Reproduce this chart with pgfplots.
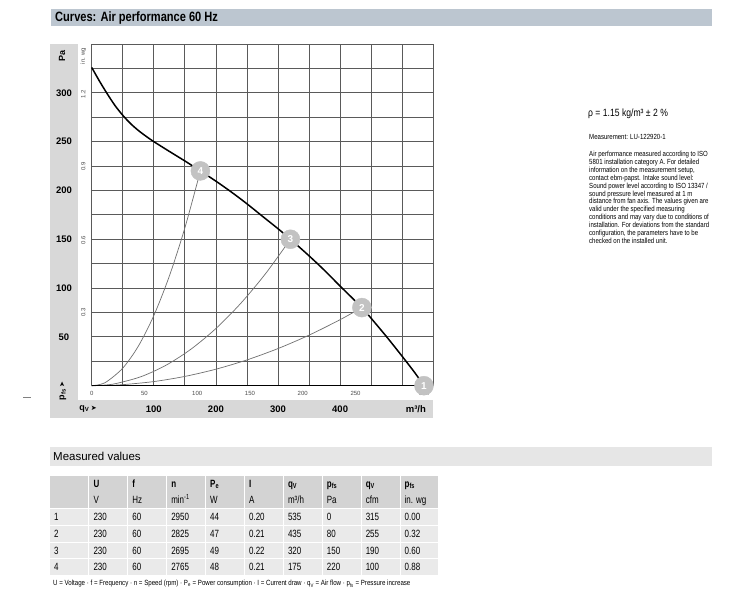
\documentclass[border=0pt]{standalone}
\usepackage{pgfplots}
\pgfplotsset{compat=1.18}
\usepackage{fontspec}
\setmainfont{Liberation Sans}
\newfontfamily\narrow[FakeStretch=0.82]{Liberation Sans}
\newfontfamily\tnarrow[FakeStretch=0.76]{Liberation Sans}
\newfontfamily\dejavu{DejaVu Sans}
\definecolor{titlebar}{HTML}{BCC6D0}
\definecolor{panel}{HTML}{D8D8D8}
\definecolor{mvbar}{HTML}{E6E6E6}
\definecolor{hdr}{HTML}{D3D3D3}
\definecolor{cellc}{HTML}{EAEAEA}
\definecolor{gridc}{HTML}{5A5A5A}
\definecolor{markc}{HTML}{C2C2C2}
\definecolor{syscol}{HTML}{707070}
\newcommand\tabrow[2]{%
  \foreach \t [count=\c from 0] in {#2}{%
    \pgfmathsetmacro{\xx}{\c==0 ? 54 : 93.3+38.9*(\c-1)}%
    \pgfmathsetmacro{\yy}{600-475.7-16.72*#1-7.95-3.6}%
    \node[anchor=base west,inner sep=0] at (\xx,\yy) {\t};
  }}
\begin{document}
\begin{tikzpicture}
\begin{scope}[x=1pt,y=1pt]
\path[fill=white,use as bounding box] (0,0) rectangle (750,600);
% title bar
\fill[titlebar] (50.7,574) rectangle (712.3,590.7);
\node[anchor=west,inner sep=0,font=\narrow\bfseries\fontsize{13.5}{15}\selectfont] at (55,582.3) {Curves: Air performance 60 Hz};
% chart panel
\fill[panel] (50,182) rectangle (433.3,556);
\fill[white] (78,199.5) rectangle (433.3,556);
\draw[gray,line width=0.8] (23,203) -- (31,203);
% right text
\node[anchor=west,inner sep=0,font=\narrow\fontsize{10.5}{12}\selectfont] at (588,486) {ρ = 1.15 kg/m³ ± 2 \%};
\node[anchor=west,inner sep=0,font=\narrow\fontsize{7.4}{7.9}\selectfont] at (589,463.3) {Measurement: LU-122920-1};
\node[anchor=north west,inner sep=0,align=left,font=\narrow\fontsize{7.4}{7.9}\selectfont] at (589,449) {Air performance measured according to ISO\\
5801 installation category A. For detailed\\
information on the measurement setup,\\
contact ebm-papst. Intake sound level:\\
Sound power level according to ISO 13347 /\\
sound pressure level measured at 1 m\\
distance from fan axis. The values given are\\
valid under the specified measuring\\
conditions and may vary due to conditions of\\
installation. For deviations from the standard\\
configuration, the parameters have to be\\
checked on the installed unit.};
% measured values
\fill[mvbar] (50,134) rectangle (712,152.7);
\node[anchor=west,inner sep=0,font=\fontsize{11.5}{13}\selectfont] at (53,143.3) {Measured values};
\foreach \r in {0,...,5}{
  \foreach \c in {0,...,9}{
    \pgfmathsetmacro{\xl}{\c==0 ? 50 : 89.3+38.9*(\c-1)}
    \pgfmathsetmacro{\xr}{\c==0 ? 88.3 : 89.3+38.9*(\c-1)+37.9}
    \pgfmathsetmacro{\yt}{600-475.7-16.72*\r}
    \pgfmathsetmacro{\yb}{\yt-15.9}
    \ifnum\r<2 \def\cc{hdr}\else\def\cc{cellc}\fi
    \fill[\cc] (\xl,\yb) rectangle (\xr,\yt);
  }
}
\begin{scope}[font=\tnarrow\fontsize{10.5}{12}\selectfont]
\tabrow{0}{{},{\bfseries U},{\bfseries f},{\bfseries n},{\bfseries P\textsubscript{e}},{\bfseries I},{\bfseries q\textsubscript{V}},{\bfseries p\textsubscript{fs}},{\bfseries q\textsubscript{V}},{\bfseries p\textsubscript{fs}}}
\tabrow{1}{{},V,Hz,{min\textsuperscript{-1}},W,A,{m³/h},Pa,cfm,{in. wg}}
\tabrow{2}{1,230,60,2950,44,0.20,535,0,315,0.00}
\tabrow{3}{2,230,60,2825,47,0.21,435,80,255,0.32}
\tabrow{4}{3,230,60,2695,49,0.22,320,150,190,0.60}
\tabrow{5}{4,230,60,2765,48,0.21,175,220,100,0.88}
\end{scope}
\node[anchor=west,inner sep=0,font=\narrow\fontsize{7.5}{8}\selectfont] at (53,16) {U = Voltage · f = Frequency · n = Speed (rpm) · P\textsubscript{e} = Power consumption · I = Current draw · q\textsubscript{V} = Air flow · p\textsubscript{fs} = Pressure increase};
\end{scope}
\begin{axis}[at={(91.7pt,214.3pt)}, anchor=south west, scale only axis,
  width=341.6pt, height=341.7pt,
  xmin=0, xmax=550, ymin=0, ymax=350,
  xtick={0,50,...,550}, ytick={0,25,...,350},
  xticklabels={}, yticklabels={}, major tick length=0pt,
  grid=major, major grid style={draw=gridc, line width=0.8pt},
  axis line style={draw=gridc, line width=0.8pt},
  clip=false]
\addplot[syscol, line width=0.7pt, smooth] coordinates {(0,0) (12.5,1.12) (25,4.49) (50,17.96) (75,40.41) (100,71.84) (125,112.24) (150,161.63) (175,220)};
\addplot[syscol, line width=0.7pt, smooth] coordinates {(0,0) (20,0.59) (40,2.34) (80,9.38) (120,21.09) (160,37.5) (200,58.59) (240,84.38) (280,114.84) (320,150)};
\addplot[syscol, line width=0.7pt, smooth] coordinates {(0,0) (25,0.26) (50,1.06) (100,4.23) (150,9.51) (200,16.91) (250,26.42) (300,38.05) (350,51.79) (400,67.64) (435,80)};
\addplot[black, line width=1.5pt, smooth] coordinates {(0,326) (12.5,312) (25,299) (37.5,287) (50,277) (62.5,268.5) (75,261.5) (87.5,255.5) (100,250) (125,240) (150,230.2) (175,220) (200,209.5) (225,198.3) (250,186.3) (275,173.5) (300,160.8) (320,150) (350,133) (375,118) (400,102) (435,80) (450,69) (475,50) (500,30) (520,13.5) (535,0)};
\draw[black, line width=1.3pt] (axis cs:0,0) -- (axis cs:550,0);
% Pa labels
\node[font=\bfseries\fontsize{9.5}{10}\selectfont] at ([xshift=-27.7pt]axis cs:0,50) {50};
\node[font=\bfseries\fontsize{9.5}{10}\selectfont] at ([xshift=-27.7pt]axis cs:0,100) {100};
\node[font=\bfseries\fontsize{9.5}{10}\selectfont] at ([xshift=-27.7pt]axis cs:0,150) {150};
\node[font=\bfseries\fontsize{9.5}{10}\selectfont] at ([xshift=-27.7pt]axis cs:0,200) {200};
\node[font=\bfseries\fontsize{9.5}{10}\selectfont] at ([xshift=-27.7pt]axis cs:0,250) {250};
\node[font=\bfseries\fontsize{9.5}{10}\selectfont] at ([xshift=-27.7pt]axis cs:0,300) {300};
\node[rotate=90,font=\bfseries\fontsize{9}{10}\selectfont] at ([xshift=-29.7pt]axis cs:0,337.7) {Pa};
% in. wg labels
\node[rotate=90,text=black!70,font=\fontsize{6}{7}\selectfont] at ([xshift=-8.4pt]axis cs:0,74.7) {0.3};
\node[rotate=90,text=black!70,font=\fontsize{6}{7}\selectfont] at ([xshift=-8.4pt]axis cs:0,149.4) {0.6};
\node[rotate=90,text=black!70,font=\fontsize{6}{7}\selectfont] at ([xshift=-8.4pt]axis cs:0,224.2) {0.9};
\node[rotate=90,text=black!70,font=\fontsize{6}{7}\selectfont] at ([xshift=-8.4pt]axis cs:0,298.9) {1.2};
\node[rotate=90,text=black!70,font=\fontsize{6}{7}\selectfont] at ([xshift=-8.4pt]axis cs:0,337.7) {in. wg};
% cfm labels
\node[text=black!70,font=\fontsize{6}{7}\selectfont] at ([yshift=-7.3pt]axis cs:0,0) {0};
\node[text=black!70,font=\fontsize{6}{7}\selectfont] at ([yshift=-7.3pt]axis cs:84.95,0) {50};
\node[text=black!70,font=\fontsize{6}{7}\selectfont] at ([yshift=-7.3pt]axis cs:169.9,0) {100};
\node[text=black!70,font=\fontsize{6}{7}\selectfont] at ([yshift=-7.3pt]axis cs:254.85,0) {150};
\node[text=black!70,font=\fontsize{6}{7}\selectfont] at ([yshift=-7.3pt]axis cs:339.8,0) {200};
\node[text=black!70,font=\fontsize{6}{7}\selectfont] at ([yshift=-7.3pt]axis cs:424.75,0) {250};
\node[text=black!70,font=\fontsize{6}{7}\selectfont] at ([yshift=-7.3pt]axis cs:535,0) {cfm};
% m3/h labels
\node[font=\bfseries\fontsize{9.5}{10}\selectfont] at ([yshift=-23.3pt]axis cs:100,0) {100};
\node[font=\bfseries\fontsize{9.5}{10}\selectfont] at ([yshift=-23.3pt]axis cs:200,0) {200};
\node[font=\bfseries\fontsize{9.5}{10}\selectfont] at ([yshift=-23.3pt]axis cs:300,0) {300};
\node[font=\bfseries\fontsize{9.5}{10}\selectfont] at ([yshift=-23.3pt]axis cs:400,0) {400};
\node[font=\bfseries\fontsize{9.5}{10}\selectfont] at ([yshift=-23.3pt]axis cs:522,0) {m³/h};
\node[font=\bfseries\fontsize{9}{10}\selectfont] at ([xshift=-3.7pt,yshift=-23.3pt]axis cs:0,0) {q\textsubscript{V}\,{\dejavu\fontsize{7}{7}\selectfont ➤}};
\node[rotate=90,font=\bfseries\fontsize{9}{10}\selectfont] at ([xshift=-28.7pt,yshift=-5.3pt]axis cs:0,0) {p\textsubscript{fs}\,{\dejavu\fontsize{7}{7}\selectfont ➤}};
% operating points
\addplot[only marks, mark=*, mark size=9.5pt, mark options={fill=markc, draw=markc},
  point meta=explicit symbolic, nodes near coords,
  nodes near coords style={anchor=center, text=white, font=\bfseries\fontsize{10}{10}\selectfont}]
  coordinates {(535,0) [1] (435,80) [2] (320,150) [3] (175,220) [4]};
\end{axis}
\end{tikzpicture}
\end{document}
